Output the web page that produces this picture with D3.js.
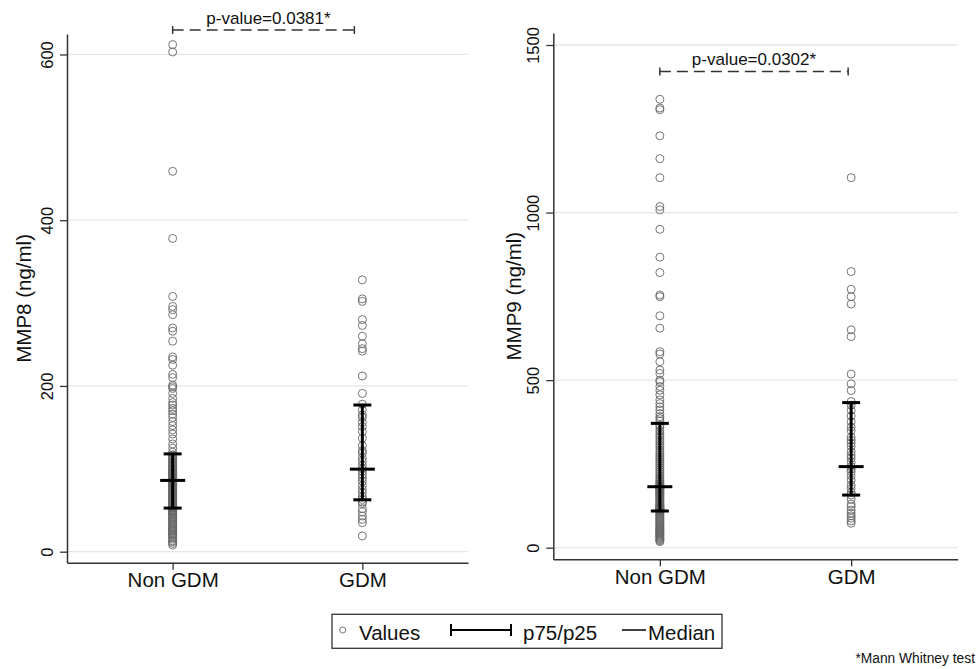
<!DOCTYPE html>
<html>
<head>
<meta charset="utf-8">
<script src="https://cdn.jsdelivr.net/npm/d3@7"></script>
<style>
  html, body { margin: 0; padding: 0; background: #fff; }
  svg { display: block; font-family: "Liberation Sans", Arial, Helvetica, sans-serif; }
</style>
</head>
<body>
<svg id="chart" width="977" height="669"></svg>
<script>
// ---------------- DATA ----------------
const categories = ["Non GDM", "GDM"];

const mmp8NonGDM = [612, 603, 459, 378, 308, 296, 292, 286, 270, 266, 254, 235, 232, 225, 214, 210, 201, 199, 197, 191, 185, 180, 177, 173, 170,
  166, 162, 157, 152, 147, 142, 136, 130, 125, 120,
  117, 115, 114, 112, 111, 109, 108, 107, 105, 104, 103, 102, 100, 99, 98, 97, 96, 95, 94, 93, 92, 91, 90, 89, 89, 88, 87, 87, 86, 86, 85, 85,
  84, 83, 82, 81, 80, 79, 78, 77, 76, 75, 74, 73, 72, 71, 70, 69, 68, 67, 66, 65, 64, 63, 62, 61, 60, 59, 58, 57, 56, 55, 54, 54, 53, 53, 52,
  51, 50, 49, 48, 47, 46, 45, 44, 42, 41, 40, 39, 38, 36, 35, 34, 33, 32, 30, 29, 28, 27, 26, 25, 23, 22, 21, 20, 18, 17, 15, 13, 12, 10, 8];
const mmp8GDM = [328, 305, 302, 280, 273, 260, 251, 245, 242, 212, 191, 178, 171, 165, 162, 156, 151, 145, 137, 128, 122, 119, 113, 109,
  104, 100, 97, 93, 89, 85, 80, 75, 71, 66, 63, 60, 58, 52, 48, 43, 39, 35, 19];

const mmp9NonGDM = [1338, 1312, 1307, 1229, 1161, 1104, 1018, 1008, 950, 867, 821, 754, 749, 692, 655, 585, 578, 555, 530, 520, 500, 495, 481,
  470, 456, 441, 430, 420, 411, 400, 391, 385, 378,
  365, 358, 350, 342, 335, 328, 320, 312, 305, 298, 290, 283, 276, 270, 264, 258, 252, 246, 240, 234, 228, 222, 216, 210, 205, 200, 196, 192, 189, 186, 184, 183, 182,
  180, 178, 176, 174, 172, 170, 168, 165, 162, 160, 157, 154, 151, 148, 145, 142, 139, 136, 133, 130, 128, 126, 124, 122, 120, 118, 116, 115, 114, 113, 112, 111, 110,
  108, 105, 102, 99, 96, 93, 90, 87, 84, 81, 78, 75, 72, 69, 66, 63, 60, 58, 55, 52, 50, 47, 45, 42, 40, 37, 35, 32, 30, 27, 24, 21, 18];
const mmp9GDM = [1104, 824, 771, 749, 727, 650, 630, 518, 489, 469, 436, 425, 410, 393, 376, 360, 349, 330, 321, 312, 302, 287, 276, 267,
  255, 242, 235, 227, 215, 202, 187, 177, 165, 157, 145, 130, 122, 112, 103, 95, 88, 80, 73];

const mmp8P25 = [52.6, 62.6];
const mmp8Median = [86, 99.6];
const mmp8P75 = [118, 177];
const mmp9P25 = [109.5, 157];
const mmp9Median = [182, 242];
const mmp9P75 = [371, 433];

const mmp8Ticks = [0, 200, 400, 600];
const mmp9Ticks = [0, 500, 1000, 1500];

const yTitles = ["MMP8 (ng/ml)", "MMP9 (ng/ml)"];
const pLabels = ["p-value=0.0381*", "p-value=0.0302*"];
const pBracketLevels = [629.5, 1421];

const legendLabels = ["Values", "p75/p25", "Median"];
const footnote = "*Mann Whitney test";

// ---------------- LAYOUT ----------------
const FONT = '"Liberation Sans", Arial, Helvetica, sans-serif';
const svg = d3.select("#chart");

const panels = [
  { left: 67, right: 468, top: 34, bottom: 562.7, yDomain: [-13.3, 624.7], ticks: mmp8Ticks,
    groups: [mmp8NonGDM, mmp8GDM], p25: mmp8P25, med: mmp8Median, p75: mmp8P75,
    title: yTitles[0], titleX: 31, pLabel: pLabels[0], pLevel: pBracketLevels[0], bracketEndOffset: 8, textShift: 5 },
  { left: 553.3, right: 957.7, top: 33, bottom: 559.3, yDomain: [-34.6, 1535.8], ticks: mmp9Ticks,
    groups: [mmp9NonGDM, mmp9GDM], p25: mmp9P25, med: mmp9Median, p75: mmp9P75,
    title: yTitles[1], titleX: 521, pLabel: pLabels[1], pLevel: pBracketLevels[1], bracketEndOffset: 3, textShift: 0 }
];

panels.forEach(p => {
  const x = d3.scalePoint().domain(categories).range([p.left, p.right]).padding(0.557);
  const y = d3.scaleLinear().domain(p.yDomain).range([p.bottom, p.top]);
  const g = svg.append("g");

  // gridlines
  g.selectAll("line.grid").data(p.ticks).join("line")
    .attr("x1", p.left).attr("x2", p.right)
    .attr("y1", d => y(d)).attr("y2", d => y(d))
    .attr("stroke", "#e6e6e6").attr("stroke-width", 1.3);

  // y axis
  const yAxis = g.append("g").attr("transform", `translate(${p.left},0)`)
    .call(d3.axisLeft(y).tickValues(p.ticks).tickSize(7).tickSizeOuter(0).tickFormat(d3.format("d")));
  yAxis.select(".domain").attr("stroke", "#333").attr("stroke-width", 1.5);
  yAxis.selectAll(".tick line").attr("stroke", "#333").attr("stroke-width", 1.3);
  yAxis.selectAll(".tick text")
    .attr("transform", "rotate(-90)")
    .attr("x", 0).attr("y", -14).attr("dy", 0)
    .attr("text-anchor", "middle")
    .attr("font-family", FONT).attr("font-size", 16.5).attr("fill", "#111");

  // x axis
  const xAxis = g.append("g").attr("transform", `translate(0,${p.bottom})`)
    .call(d3.axisBottom(x).tickSize(7).tickSizeOuter(0));
  xAxis.select(".domain").attr("stroke", "#333").attr("stroke-width", 1.5);
  xAxis.selectAll(".tick line").attr("stroke", "#333").attr("stroke-width", 1.3);
  xAxis.selectAll(".tick text")
    .attr("font-family", FONT).attr("font-size", 20.5).attr("fill", "#111");

  // y title
  g.append("text")
    .attr("transform", `translate(${p.titleX},${(p.top + p.bottom) / 2}) rotate(-90)`)
    .attr("text-anchor", "middle")
    .attr("font-family", FONT).attr("font-size", 20.5).attr("fill", "#111")
    .text(p.title);

  // points
  p.groups.forEach((vals, i) => {
    g.append("g").selectAll("circle").data(vals).join("circle")
      .attr("cx", x(categories[i])).attr("cy", d => y(d)).attr("r", 4)
      .attr("fill", "none").attr("stroke", "#666").attr("stroke-width", 0.9);
  });

  // whiskers p75/p25 and median
  categories.forEach((c, i) => {
    const cx = x(c);
    g.append("line").attr("x1", cx).attr("x2", cx).attr("y1", y(p.p25[i])).attr("y2", y(p.p75[i]))
      .attr("stroke", "#000").attr("stroke-width", 3);
    [p.p25[i], p.p75[i]].forEach(v => {
      g.append("line").attr("x1", cx - 9).attr("x2", cx + 9).attr("y1", y(v)).attr("y2", y(v))
        .attr("stroke", "#000").attr("stroke-width", 3);
    });
    g.append("line").attr("x1", cx - 12.5).attr("x2", cx + 12.5).attr("y1", y(p.med[i])).attr("y2", y(p.med[i]))
      .attr("stroke", "#000").attr("stroke-width", 3);
  });

  // p-value bracket
  const bx0 = x(categories[0]), bx1 = x(categories[1]) - p.bracketEndOffset;
  const by = y(p.pLevel);
  g.append("line").attr("x1", bx0).attr("x2", bx1).attr("y1", by).attr("y2", by)
    .attr("stroke", "#333").attr("stroke-width", 1.5).attr("stroke-dasharray", "11,6");
  [bx0, bx1].forEach(bx => {
    g.append("line").attr("x1", bx).attr("x2", bx).attr("y1", by - 4).attr("y2", by + 4)
      .attr("stroke", "#333").attr("stroke-width", 1.5);
  });
  g.append("text")
    .attr("x", (bx0 + bx1) / 2 + p.textShift).attr("y", by - 6)
    .attr("text-anchor", "middle")
    .attr("font-family", FONT).attr("font-size", 17).attr("fill", "#111")
    .text(p.pLabel);
});

// ---------------- LEGEND ----------------
const lg = svg.append("g");
lg.append("rect").attr("x", 332).attr("y", 614.3).attr("width", 390).attr("height", 34)
  .attr("fill", "#fff").attr("stroke", "#333").attr("stroke-width", 1.3);
const ly = 630;
lg.append("circle").attr("cx", 342.7).attr("cy", ly).attr("r", 3)
  .attr("fill", "none").attr("stroke", "#666").attr("stroke-width", 0.9);
lg.append("text").attr("x", 359).attr("y", 640).attr("font-family", FONT).attr("font-size", 20.5).attr("fill", "#111").text(legendLabels[0]);
lg.append("line").attr("x1", 451).attr("x2", 511).attr("y1", ly).attr("y2", ly).attr("stroke", "#000").attr("stroke-width", 2);
[451, 511].forEach(xx => lg.append("line").attr("x1", xx).attr("x2", xx).attr("y1", ly - 6).attr("y2", ly + 6).attr("stroke", "#000").attr("stroke-width", 2));
lg.append("text").attr("x", 523).attr("y", 640).attr("font-family", FONT).attr("font-size", 20.5).attr("fill", "#111").text(legendLabels[1]);
lg.append("line").attr("x1", 622).attr("x2", 646).attr("y1", ly).attr("y2", ly).attr("stroke", "#000").attr("stroke-width", 1.5);
lg.append("text").attr("x", 648).attr("y", 640).attr("font-family", FONT).attr("font-size", 20.5).attr("fill", "#111").text(legendLabels[2]);

// footnote
svg.append("text").attr("x", 975).attr("y", 663).attr("text-anchor", "end")
  .attr("font-family", FONT).attr("font-size", 13.8).attr("fill", "#111").text(footnote);
</script>
</body>
</html>
